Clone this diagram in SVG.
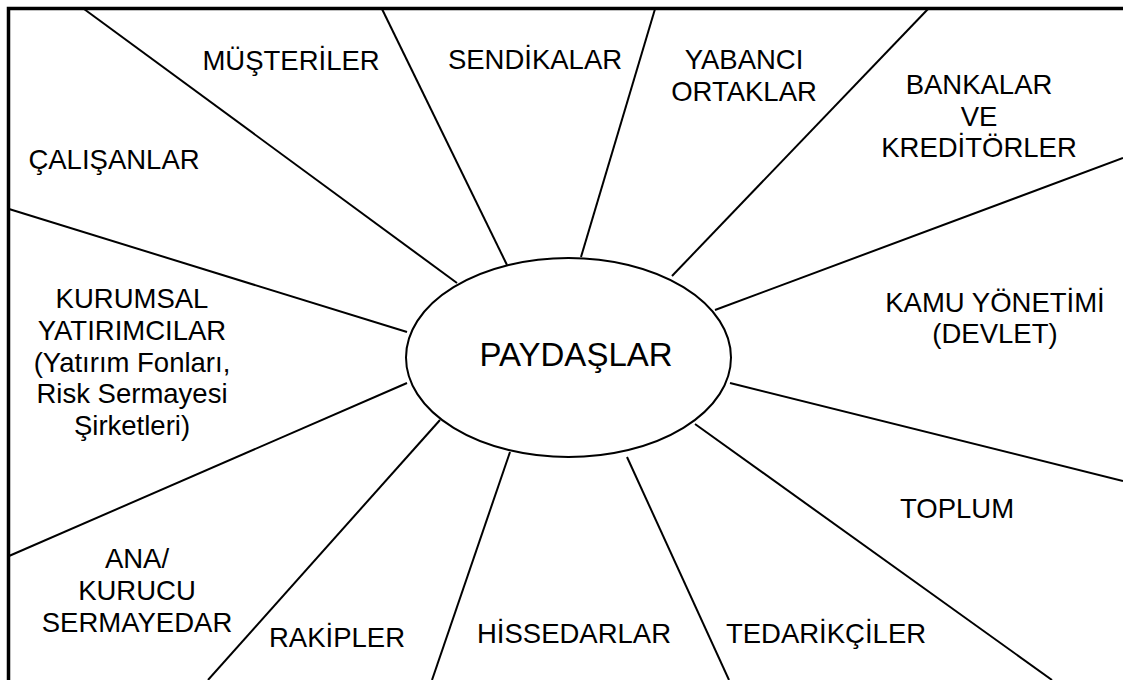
<svg xmlns="http://www.w3.org/2000/svg" width="1123" height="680" viewBox="0 0 1123 680">
<style>
  .lbl { font-family: "Liberation Sans", Arial, sans-serif; font-size: 27.5px; fill: #000; text-anchor: middle; }
  .center { font-family: "Liberation Sans", Arial, sans-serif; font-size: 33px; fill: #000; text-anchor: middle; }
  .spoke { stroke: #000; stroke-width: 2; fill: none; }
</style>
<rect x="0" y="0" width="1123" height="680" fill="#fff"/>
<rect id="frame" x="8.5" y="8.5" width="1130" height="690" fill="none" stroke="#000" stroke-width="3.5"/>
<g id="connectors">
  <line class="spoke" x1="84" y1="9" x2="457" y2="283"/>
  <line class="spoke" x1="9" y1="209" x2="407" y2="332"/>
  <line class="spoke" x1="382" y1="9" x2="507" y2="265"/>
  <line class="spoke" x1="655" y1="9" x2="581" y2="257"/>
  <line class="spoke" x1="928" y1="9" x2="672" y2="276"/>
  <line class="spoke" x1="1123" y1="158" x2="715" y2="310"/>
  <line class="spoke" x1="730" y1="383" x2="1123" y2="481"/>
  <line class="spoke" x1="695" y1="424" x2="1052" y2="680"/>
  <line class="spoke" x1="627" y1="457" x2="729" y2="680"/>
  <line class="spoke" x1="510" y1="452" x2="432" y2="680"/>
  <line class="spoke" x1="440" y1="420" x2="208" y2="680"/>
  <line class="spoke" x1="407" y1="383" x2="9" y2="556"/>
</g>
<g id="paydaslar">
  <ellipse cx="568.5" cy="357.5" rx="162.5" ry="99.5" fill="#fff" stroke="#000" stroke-width="2"/>
  <text class="center" x="576" y="366">PAYDAŞLAR</text>
</g>
<g id="musteriler"><text class="lbl" x="291" y="70">MÜŞTERİLER</text></g>
<g id="calisanlar"><text class="lbl" x="114" y="169">ÇALIŞANLAR</text></g>
<g id="sendikalar"><text class="lbl" x="535" y="69">SENDİKALAR</text></g>
<g id="yabanci-ortaklar">
  <text class="lbl" x="744" y="69">YABANCI</text>
  <text class="lbl" x="744" y="101">ORTAKLAR</text>
</g>
<g id="bankalar">
  <text class="lbl" x="979" y="94">BANKALAR</text>
  <text class="lbl" x="979" y="126">VE</text>
  <text class="lbl" x="979" y="157">KREDİTÖRLER</text>
</g>
<g id="kamu">
  <text class="lbl" x="995" y="312">KAMU YÖNETİMİ</text>
  <text class="lbl" x="995" y="343">(DEVLET)</text>
</g>
<g id="toplum"><text class="lbl" x="957" y="518">TOPLUM</text></g>
<g id="tedarikciler"><text class="lbl" x="826" y="643">TEDARİKÇİLER</text></g>
<g id="hissedarlar"><text class="lbl" x="574" y="643">HİSSEDARLAR</text></g>
<g id="rakipler"><text class="lbl" x="337" y="647">RAKİPLER</text></g>
<g id="ana-kurucu">
  <text class="lbl" x="137" y="568">ANA/</text>
  <text class="lbl" x="137" y="600">KURUCU</text>
  <text class="lbl" x="137" y="632">SERMAYEDAR</text>
</g>
<g id="kurumsal">
  <text class="lbl" x="132" y="308">KURUMSAL</text>
  <text class="lbl" x="132" y="340">YATIRIMCILAR</text>
  <text class="lbl" x="132" y="372">(Yatırım Fonları,</text>
  <text class="lbl" x="132" y="403">Risk Sermayesi</text>
  <text class="lbl" x="132" y="435">Şirketleri)</text>
</g>
</svg>
